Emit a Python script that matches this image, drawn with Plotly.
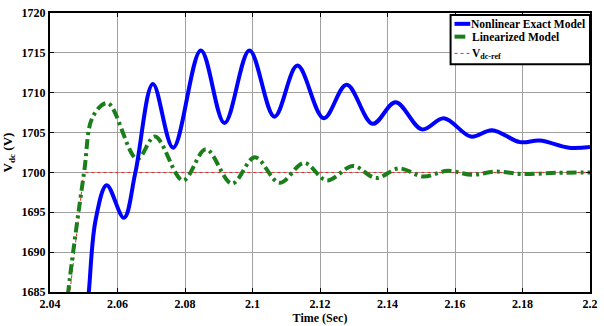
import plotly.graph_objects as go

# Nonlinear exact model (blue) – key points
t_nl = [2.0508, 2.0515, 2.0535, 2.0568, 2.0619, 2.0653, 2.0705, 2.0765, 2.0847, 2.0917,
        2.0991, 2.1065, 2.1133, 2.1211, 2.1279, 2.1356, 2.1424, 2.1502, 2.1567, 2.1647,
        2.1710, 2.1793, 2.1851, 2.1938, 2.2000]
v_nl = [1682.0, 1685.0, 1694.0, 1698.4, 1694.3, 1700.0, 1711.1, 1703.1, 1715.3, 1706.2,
        1715.3, 1707.0, 1713.4, 1706.8, 1711.0, 1706.1, 1708.8, 1705.4, 1706.8, 1704.5,
        1705.3, 1703.8, 1704.0, 1703.1, 1703.2]

# Linearized model (green)
t_lin = [2.0448, 2.0454, 2.0501, 2.0527, 2.0571, 2.0658, 2.0711, 2.0794, 2.0862, 2.0939,
         2.1007, 2.1080, 2.1153, 2.1220, 2.1298, 2.1366, 2.1434, 2.1506, 2.1579, 2.1650,
         2.1720, 2.1800, 2.1900, 2.2000]
v_lin = [1682.0, 1685.0, 1700.0, 1707.0, 1708.7, 1701.7, 1704.5, 1699.0, 1702.9, 1698.6,
         1701.9, 1698.7, 1701.2, 1699.0, 1700.8, 1699.3, 1700.5, 1699.5, 1700.2, 1699.7,
         1700.1, 1699.8, 1699.95, 1700.0]

# Reference V_dc-ref (red dotted)
t_ref = [2.04535, 2.0500, 2.2000]
v_ref = [1683.0, 1700.0, 1700.0]

# Data-cursor marker above the axes
t_mark = [2.1503]
v_mark = [1720.9]

x_ticks = [2.04, 2.06, 2.08, 2.10, 2.12, 2.14, 2.16, 2.18, 2.20]
x_ticktext = ["<b>2.04</b>", "<b>2.06</b>", "<b>2.08</b>", "<b>2.1</b>", "<b>2.12</b>",
              "<b>2.14</b>", "<b>2.16</b>", "<b>2.18</b>", "<b>2.2</b>"]
y_ticks = [1685, 1690, 1695, 1700, 1705, 1710, 1715, 1720]
y_ticktext = ["<b>1685</b>", "<b>1690</b>", "<b>1695</b>", "<b>1700</b>",
              "<b>1705</b>", "<b>1710</b>", "<b>1715</b>", "<b>1720</b>"]

legend_names = ["Nonlinear Exact Model", "Linearized Model", "V<sub>dc-ref</sub>"]

C_NL, C_LIN, C_REF = "#0000ff", "#1a7f1a", "#ff2020"
FONT = "Liberation Serif"

fig = go.Figure()
fig.add_trace(go.Scatter(x=t_ref, y=v_ref, mode="lines", name=legend_names[2], showlegend=False,
                         line=dict(color=C_REF, width=1, dash="dot")))
fig.add_trace(go.Scatter(x=t_lin, y=v_lin, mode="lines", name=legend_names[1], showlegend=False,
                         line=dict(color=C_LIN, width=4, dash="10px,4px,3px,4px", shape="spline", smoothing=1.0)))
fig.add_trace(go.Scatter(x=t_nl, y=v_nl, mode="lines", name=legend_names[0], showlegend=False,
                         line=dict(color=C_NL, width=4, shape="spline", smoothing=1.0)))
fig.add_trace(go.Scatter(x=t_mark, y=v_mark, mode="markers", showlegend=False, cliponaxis=False,
                         marker=dict(symbol="triangle-down", size=8, color="#d04848")))

# ---- hand-drawn MATLAB-style legend (layout only) ----
L, R, T, B = 48, 598, 10, 293
def px(x):
    return (x - L) / (R - L)
def py(y):
    return 1 - (y - T) / (B - T)

shapes = [
    dict(type="rect", xref="paper", yref="paper", x0=px(456), x1=px(598), y0=py(62), y1=py(12),
         line=dict(color="black", width=2), fillcolor="white", layer="above"),
    dict(type="line", xref="paper", yref="paper", x0=px(460), x1=px(476), y0=py(21), y1=py(21),
         line=dict(color=C_NL, width=4), layer="above"),
    dict(type="line", xref="paper", yref="paper", x0=px(460), x1=px(471), y0=py(34), y1=py(34),
         line=dict(color=C_LIN, width=4), layer="above"),
    dict(type="line", xref="paper", yref="paper", x0=px(460), x1=px(476), y0=py(51), y1=py(51),
         line=dict(color=C_REF, width=1, dash="dot"), layer="above"),
]
ann_y = [21, 34, 52]
ann_x = [476, 477, 477]
annotations = [
    dict(xref="paper", yref="paper", x=px(ann_x[i]), y=py(ann_y[i]), xanchor="left", yanchor="middle",
         text="<b>" + legend_names[i] + "</b>", showarrow=False, borderpad=0,
         font=dict(family=FONT, size=11.5, color="black"))
    for i in range(3)
]

axis_common = dict(
    showline=True, linecolor="black", linewidth=2, mirror="ticks",
    ticks="inside", ticklen=4, tickcolor="black", tickwidth=1,
    showgrid=True, gridcolor="#a0a0a0", gridwidth=1,
    zeroline=False,
    tickfont=dict(family=FONT, size=12, color="black"),
)

fig.update_layout(
    width=604, height=326,
    margin=dict(l=48, r=6, t=10, b=33),
    paper_bgcolor="white", plot_bgcolor="white",
    font=dict(family=FONT, size=12, color="black"),
    showlegend=False,
    shapes=shapes,
    annotations=annotations,
    xaxis=dict(range=[2.04, 2.2], tickvals=x_ticks, ticktext=x_ticktext,
               title=dict(text="<b>Time (Sec)</b>", font=dict(family=FONT, size=12, color="black"),
                          standoff=0),
               **axis_common),
    yaxis=dict(range=[1685, 1720], tickvals=y_ticks, ticktext=y_ticktext,
               title=dict(text="<b>V<sub>dc</sub> (V)</b>", font=dict(family=FONT, size=13, color="black"),
                          standoff=6),
               **axis_common),
)

fig.write_html("out.html")
